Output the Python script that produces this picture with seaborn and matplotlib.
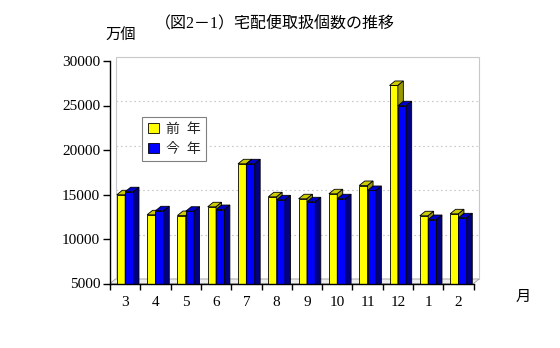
import numpy as np
import pandas as pd
import matplotlib
matplotlib.use("Agg")
import matplotlib.pyplot as plt
import seaborn as sns
from matplotlib.patches import Polygon, Patch, Rectangle

# Monthly parcel delivery volume (unit: 10,000 pieces)
months = ["3", "4", "5", "6", "7", "8", "9", "10", "11", "12", "1", "2"]
prev_year = [14970, 12720, 12640, 13620, 18450, 14740, 14520, 15080, 16010, 27250, 12610, 12830]
this_year = [15310, 13170, 13120, 13310, 18450, 14400, 14180, 14520, 15450, 24970, 12190, 12380]
series = ["前\u2002年", "今\u2002年"]
y_ticks = [5000, 10000, 15000, 20000, 25000, 30000]

title = "（図2－1）宅配便取扱個数の推移"
unit_label = "万個"
month_label = "月"

front_colors = ["#FFFF00", "#0000FF"]
top_colors = ["#CCCC00", "#0000CC"]
side_colors = ["#999900", "#000080"]

sns.set_theme(style="white")
plt.rcParams["font.family"] = ["Liberation Serif", "Noto Sans CJK JP"]

df = pd.DataFrame({
    "月": months * 2,
    "個数": prev_year + this_year,
    "系列": [series[0]] * len(months) + [series[1]] * len(months),
})

W, H = 560, 348
fig = plt.figure(figsize=(W / 100, H / 100), dpi=100)
ax_l, ax_b, ax_w, ax_h = 110 / W, 1 - 283.5 / H, 363.6 / W, 222.5 / H
ax = fig.add_axes([ax_l, ax_b, ax_w, ax_h])
ax.set_facecolor("none")

sns.barplot(data=df, x="月", y="個数", hue="系列", order=months, hue_order=series,
            palette=front_colors, saturation=1, width=0.55, gap=0, dodge=True,
            edgecolor="black", linewidth=0.6, legend=False, ax=ax)

x_lo, x_hi = -0.5, len(months) - 0.5
y_lo, y_hi = y_ticks[0], y_ticks[-1]
ax.set_xlim(x_lo, x_hi)
ax.set_ylim(y_lo, y_hi)

# depth offset of the pseudo-3D box, in pixels converted to data units
depth_px = (5.5, 4.5)
DX = depth_px[0] * (x_hi - x_lo) / (ax_w * W)
DY = depth_px[1] * (y_hi - y_lo) / (ax_h * H)

# back wall, floor and gridlines
ax.add_patch(Rectangle((x_lo + DX, y_lo + DY), x_hi - x_lo, y_hi - y_lo,
                       facecolor="white", edgecolor="#C8C8C8", linewidth=0.8,
                       clip_on=False, zorder=0.5))
ax.add_patch(Polygon([(x_lo, y_lo), (x_hi, y_lo), (x_hi + DX, y_lo + DY), (x_lo + DX, y_lo + DY)],
                     closed=True, facecolor="#EDEDED", edgecolor="#A0A0A0", linewidth=0.6,
                     clip_on=False, zorder=0.7))
for v in y_ticks[1:-1]:
    ax.plot([x_lo + DX, x_hi + DX], [v + DY, v + DY], ls=(0, (1.5, 2.5)), color="#C8C8C8",
            linewidth=0.8, clip_on=False, zorder=0.6)

# top and side faces of each bar
for k, cont in enumerate(ax.containers):
    z = 2 + k
    for bar in cont:
        bar.set_zorder(z)
        x0, w, h = bar.get_x(), bar.get_width(), bar.get_y() + bar.get_height()
        top = Polygon([(x0, h), (x0 + w, h), (x0 + w + DX, h + DY), (x0 + DX, h + DY)],
                      closed=True, facecolor=top_colors[k], edgecolor="black",
                      linewidth=0.6, zorder=z)
        side = Polygon([(x0 + w, y_lo - DY), (x0 + w, h), (x0 + w + DX, h + DY), (x0 + w + DX, y_lo)],
                       closed=True, facecolor=side_colors[k], edgecolor="black",
                       linewidth=0.6, zorder=z)
        ax.add_patch(top)
        ax.add_patch(side)

for s in ["top", "right"]:
    ax.spines[s].set_visible(False)
for s in ["left", "bottom"]:
    ax.spines[s].set_color("black")
    ax.spines[s].set_linewidth(1.0)
    ax.spines[s].set_zorder(5)

ax.set_yticks(y_ticks)
ax.set_yticklabels([str(v) for v in y_ticks])
ax.tick_params(axis="y", left=True, direction="out", length=5, width=1, color="black",
               labelsize=11, pad=2, labelcolor="black")
ax.set_xticks(np.arange(x_lo, x_hi + 0.01, 1), minor=True)
ax.tick_params(axis="x", which="minor", bottom=True, direction="out", length=4, width=1, color="black")
ax.tick_params(axis="x", which="major", bottom=False, length=0, pad=9, labelsize=11, labelcolor="black")
ax.set_xlabel("")
ax.set_ylabel("")

fig.text(275 / W, 1 - 24 / H, title, ha="center", va="center", fontsize=11.5, color="black")
fig.text(121 / W, 1 - 35 / H, unit_label, ha="center", va="center", fontsize=11, color="black")
fig.text(523 / W, 1 - 297 / H, month_label, ha="center", va="center", fontsize=11, color="black")

handles = [Patch(facecolor=c, edgecolor="black", linewidth=0.6) for c in front_colors]
leg = fig.legend(handles, series, loc="upper left", bbox_to_anchor=(142 / W, 1 - 117 / H),
                 frameon=True, fancybox=False, edgecolor="#808080", facecolor="white",
                 framealpha=1, fontsize=10, handlelength=0.8, handleheight=0.8,
                 borderpad=0.4, labelspacing=0.5, handletextpad=0.5, borderaxespad=0)
leg.get_frame().set_linewidth(0.8)

fig.savefig("out.png", dpi=100, facecolor="white")
